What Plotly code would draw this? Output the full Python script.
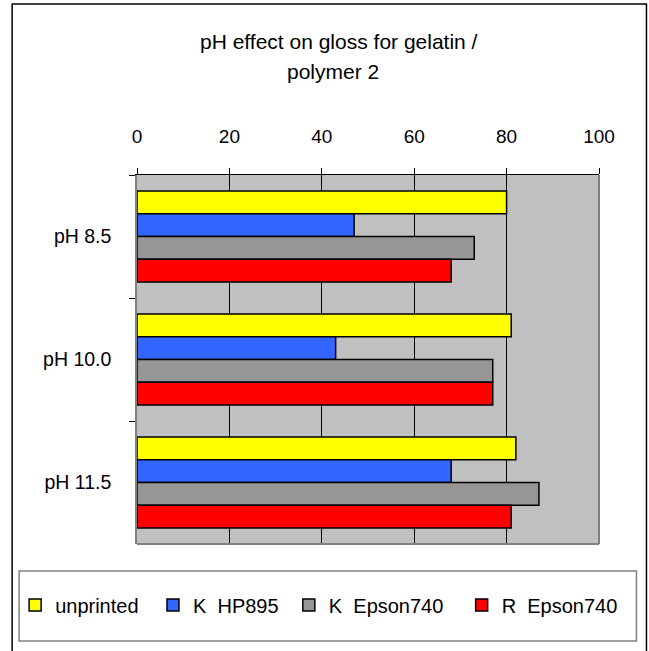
import plotly.graph_objects as go

categories = ["pH 8.5", "pH 10.0", "pH 11.5"]
series_names = ["unprinted", "K\u00a0\u00a0HP895", "K\u00a0\u00a0Epson740", "R\u00a0\u00a0Epson740"]
unprinted = [80, 81, 82]
k_hp895 = [47, 43, 68]
k_epson740 = [73, 77, 87]
r_epson740 = [68, 77, 81]
x_ticks = [0, 20, 40, 60, 80, 100]

series_values = [unprinted, k_hp895, k_epson740, r_epson740]
colors = ["#FFFF00", "#3366FF", "#969696", "#FF0000"]
legend_ids = ["legend", "legend2", "legend3", "legend4"]
legend_px = [15, 153, 289, 462]  # left pixel of each legend entry

FONT = "Liberation Sans, Arial, sans-serif"
W, H = 649, 651
ML, MR, MT, MB = 137, 49.5, 175, 107
PW = W - ML - MR
PH = H - MT - MB


def px_x(p):
    return (p - ML) / PW


def px_y(p):
    return (H - MB - p) / PH


fig = go.Figure()
for name, vals, col, lg in zip(series_names, series_values, colors, legend_ids):
    fig.add_trace(go.Bar(
        y=categories, x=vals, name=name, orientation="h",
        marker=dict(color=col, line=dict(color="black", width=1.5)),
        legend=lg,
    ))

legend_layout = {}
for lg, lx in zip(legend_ids, legend_px):
    legend_layout[lg] = dict(
        orientation="h", x=px_x(lx), xanchor="left", y=px_y(605), yanchor="middle",
        font=dict(size=20, family=FONT, color="black"),
        bgcolor="rgba(0,0,0,0)", borderwidth=0,
    )

fig.update_layout(
    width=W, height=H,
    margin=dict(l=ML, r=MR, t=MT, b=MB, autoexpand=False),
    paper_bgcolor="white", plot_bgcolor="#C0C0C0",
    barmode="group", bargap=0.26, bargroupgap=0,
    font=dict(family=FONT, size=19, color="black"),
    showlegend=True,
    xaxis=dict(
        side="top", range=[0, 100], tickvals=x_ticks, ticks="outside", ticklen=6,
        tickcolor="black", showline=True, linecolor="black", linewidth=1,
        showgrid=True, gridcolor="black", gridwidth=1, zeroline=False,
        tickfont=dict(size=19), ticklabelstandoff=17,
    ),
    yaxis=dict(
        autorange="reversed", type="category", tickson="boundaries",
        ticks="outside", ticklen=6, tickcolor="black", showline=True,
        linecolor="#808080", linewidth=1.5, showgrid=False, zeroline=False,
        ticklabelstandoff=20, tickfont=dict(size=19.5),
    ),
    **legend_layout,
)

shapes = [
    # plot area right and bottom edges
    dict(type="line", xref="paper", yref="paper", x0=1, x1=1, y0=0, y1=1,
         line=dict(color="#808080", width=2)),
    dict(type="line", xref="paper", yref="paper", x0=0, x1=1, y0=0, y1=0,
         line=dict(color="#808080", width=2)),
    # outer chart border
    dict(type="rect", xref="paper", yref="paper", x0=px_x(12), x1=px_x(647),
         y0=px_y(660), y1=px_y(4), line=dict(color="black", width=1.5),
         layer="below"),
    # legend box
    dict(type="rect", xref="paper", yref="paper", x0=px_x(19), x1=px_x(637),
         y0=px_y(641), y1=px_y(571), line=dict(color="#808080", width=1.5)),
]
fig.update_layout(shapes=shapes)

fig.add_annotation(text="pH effect on gloss for gelatin /", xref="paper", yref="paper",
                   x=px_x(339), y=px_y(42), xanchor="center", yanchor="middle",
                   showarrow=False, font=dict(size=21))
fig.add_annotation(text="polymer 2", xref="paper", yref="paper",
                   x=px_x(333), y=px_y(72), xanchor="center", yanchor="middle",
                   showarrow=False, font=dict(size=21))

fig.write_html("out.html")
